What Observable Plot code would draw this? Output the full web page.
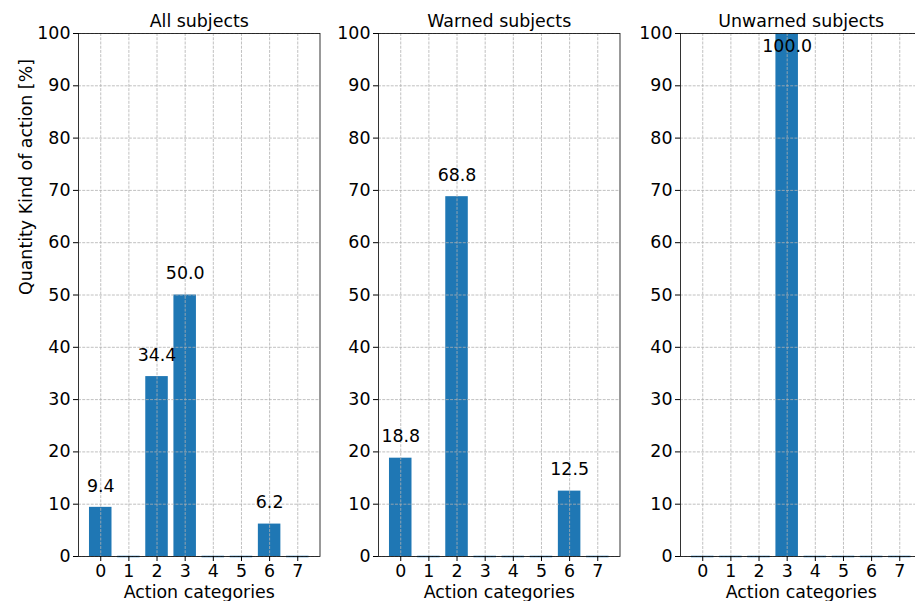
<!DOCTYPE html>
<html>
<head>
<meta charset="utf-8">
<script src="https://cdn.jsdelivr.net/npm/d3@7"></script>
<script src="https://cdn.jsdelivr.net/npm/@observablehq/plot@0.6"></script>
<style>
  html, body { margin: 0; padding: 0; background: #fff; overflow: hidden; }
  #chart { position: relative; width: 915px; height: 601px; overflow: hidden; font-family: "DejaVu Sans", sans-serif; }
</style>
</head>
<body>
<div id="chart"></div>
<script>
const categories = [0, 1, 2, 3, 4, 5, 6, 7];
const allSubjects = [9.4, 0, 34.4, 50.0, 0, 0, 6.2, 0];
const warnedSubjects = [18.8, 0, 68.8, 0, 0, 0, 12.5, 0];
const unwarnedSubjects = [0, 0, 0, 100.0, 0, 0, 0, 0];
const panelTitles = ["All subjects", "Warned subjects", "Unwarned subjects"];
const yTicks = [0, 10, 20, 30, 40, 50, 60, 70, 80, 90, 100];
const xLabel = "Action categories";
const yLabel = "Quantity Kind of action [%]";

const series = [allSubjects, warnedSubjects, unwarnedSubjects];
const plotLefts = [78, 378, 679.5];
const plotW = 241.5;
const mL = 78, mR = 12, mT = 33, mB = 45;
const FS = 17.4;
const blue = "#1f77b4";
const container = document.getElementById("chart");

series.forEach((vals, k) => {
  const data = categories.map((c, i) => ({cat: c, value: vals[i]}));
  const marks = [
    Plot.rectY(data, {x1: d => d.cat - 0.4, x2: d => d.cat + 0.4, y1: 0, y2: "value", fill: blue}),
    Plot.ruleY(data.filter(d => d.value === 0), {x1: d => d.cat - 0.4, x2: d => d.cat + 0.4, y: 0, stroke: blue, strokeWidth: 1.5}),
    Plot.gridX(categories, {stroke: "#b0b0b0", strokeOpacity: 1, strokeWidth: 0.8, strokeDasharray: "2.96,1.28"}),
    Plot.gridY(yTicks, {stroke: "#b0b0b0", strokeOpacity: 1, strokeWidth: 0.8, strokeDasharray: "2.96,1.28"}),
    Plot.frame({stroke: "black", strokeWidth: 0.8}),
    Plot.axisX(categories, {tickFormat: d => String(d), tickSize: 5, tickPadding: 3, fontSize: FS, label: null, stroke: "black"}),
    Plot.axisY(yTicks, {tickFormat: d => String(d), tickSize: 5, tickPadding: 3, fontSize: FS, label: null, stroke: "black"}),
    Plot.text(data.filter(d => d.value > 0), {x: "cat", y: d => Math.min(d.value + 3, 96.4),
      text: d => d.value.toFixed(1), textAnchor: "middle", lineAnchor: "bottom", fontSize: FS, fill: "black"}),
    Plot.text([panelTitles[k]], {frameAnchor: "top", dy: -7, lineAnchor: "bottom", fontSize: FS, fill: "black"}),
    Plot.text([xLabel], {frameAnchor: "bottom", dy: 41, lineAnchor: "bottom", fontSize: FS, fill: "black"})
  ];
  if (k === 0) {
    marks.push(Plot.text([yLabel], {frameAnchor: "left", dx: -52, rotate: -90, lineAnchor: "middle", fontSize: FS, fill: "black"}));
  }
  const svg = Plot.plot({
    width: mL + plotW + mR,
    height: 601,
    marginLeft: mL, marginRight: mR, marginTop: mT, marginBottom: mB,
    style: {fontFamily: "DejaVu Sans, sans-serif", fontSize: FS + "px", background: "transparent", color: "black", overflow: "visible"},
    x: {domain: [-0.79, 7.79], axis: null},
    y: {domain: [0, 100], axis: null},
    marks
  });
  svg.style.position = "absolute";
  svg.style.left = (plotLefts[k] - mL) + "px";
  svg.style.top = "0px";
  container.appendChild(svg);
});
</script>
</body>
</html>
